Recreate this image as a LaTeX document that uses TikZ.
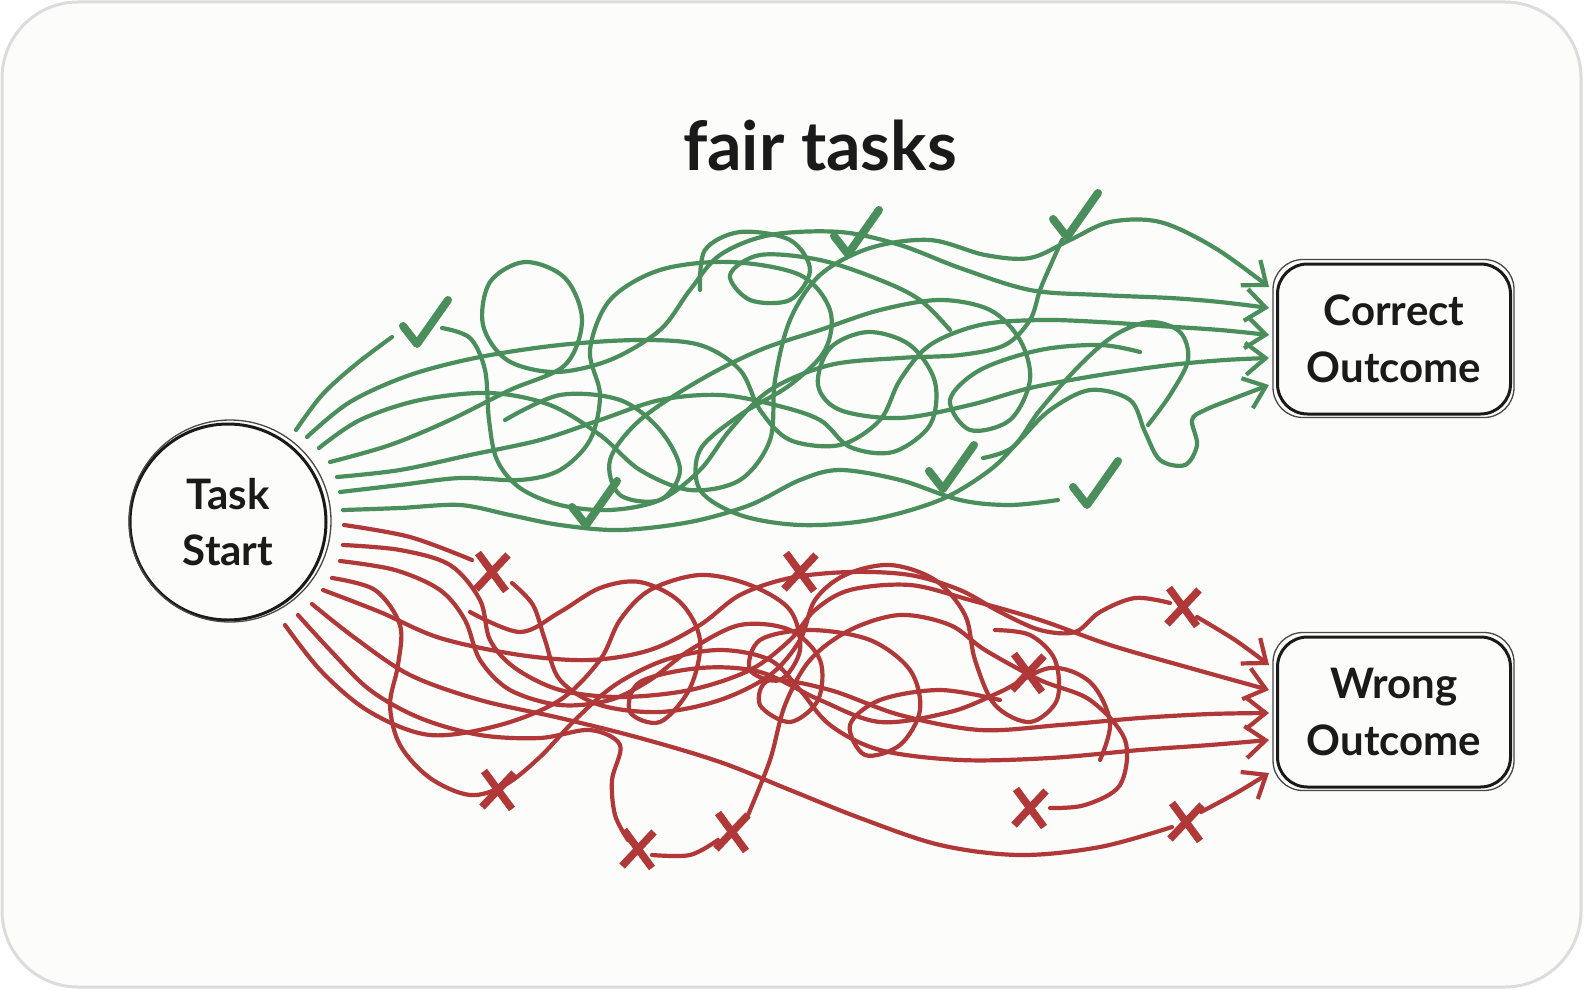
\documentclass[tikz,border=0pt]{standalone}
\usepackage{fontspec}
\setmainfont{Lato}
\usetikzlibrary{arrows.meta}
\definecolor{gr}{HTML}{4A8E5B}
\definecolor{rd}{HTML}{B03838}
\definecolor{ink}{HTML}{1A1A1A}
\definecolor{frame}{HTML}{DCDCDC}
\definecolor{paper}{HTML}{FCFCFA}
\begin{document}
\begin{tikzpicture}[x=1pt,y=-1pt,
  gline/.style={draw=gr, line width=4.2pt, line cap=round, line join=round},
  rline/.style={draw=rd, line width=4.2pt, line cap=round, line join=round},
  tip/.style={-{Straight Barb[length=20pt,width=32pt]}},
  sm/.style={smooth, tension=0.55},
  chk/.pic={\draw[draw=gr, line width=8pt, line cap=round, line join=round] (-22,3) -- (-8,21) -- (23,-23);},
  xm/.pic={\draw[draw=rd, line width=7.5pt] (-14,-19) -- (14,19) (16,-17) -- (-16,17);},
  txt/.style={text=ink, align=center, font=\bfseries\fontsize{42}{57}\selectfont},
  sketch/.style={draw=ink, line width=3pt},
  sketch2/.style={draw=ink!80, line width=1.3pt}]
\useasboundingbox (0,0) rectangle (1584,990);
\draw[draw=frame, line width=3pt, fill=paper, rounded corners=76pt] (2,2) rectangle (1581,987);

% nodes
\node[txt, font=\bfseries\fontsize{68}{74}\selectfont, anchor=base] (title) at (820,170) {fair tasks};
\node[txt, circle, sketch, minimum size=196pt, inner sep=0pt, font=\bfseries\fontsize{42}{56}\selectfont] (start) at (228,522) {Task\\Start};
\draw[sketch2] ([shift={(2pt,1pt)}]start.center) circle[radius=101];
\node[txt, sketch, rounded corners=30pt, minimum width=233pt, minimum height=150pt] (correct) at (1394,339) {Correct\\Outcome};
\draw[sketch2, rounded corners=30pt] ([shift={(-3pt,-2pt)}]correct.south west) rectangle ([shift={(2pt,3pt)}]correct.north east);
\node[txt, sketch, rounded corners=30pt, minimum width=233pt, minimum height=150pt] (wrong) at (1394,712) {Wrong\\Outcome};
\draw[sketch2, rounded corners=30pt] ([shift={(-3pt,-2pt)}]wrong.south west) rectangle ([shift={(2pt,3pt)}]wrong.north east);

% green start / end points
\coordinate (gs1) at (296,430);
\coordinate (gs2) at (307,437);
\coordinate (gs3) at (319,448);
\coordinate (gs4) at (330,462);
\coordinate (gs5) at (337,477);
\coordinate (gs6) at (340,492);
\coordinate (gs7) at (343,510);
\coordinate (gs8) at (442,328);
\coordinate (ga1) at ([shift={(-7pt,52pt)}]correct.west);
\coordinate (ga2) at ([shift={(-7pt,31pt)}]correct.west);
\coordinate (ga3) at ([shift={(-7pt,4pt)}]correct.west);
\coordinate (ga4) at ([shift={(-7pt,-19pt)}]correct.west);
\coordinate (ga5) at ([shift={(-7pt,-46pt)}]correct.west);

% green scribbles
\draw[gline] plot[sm] coordinates {(gs1) (322,395) (355,365) (392,337)};
\draw[gline, tip] plot[sm] coordinates {(gs2) (350,402) (410,375) (480,357) (560,345) (640,340) (700,345) (740,370) (760,410) (790,440) (840,445) (880,420) (900,380) (930,345) (980,325) (1040,320) (1100,322) (1160,326) (1220,330) (ga3)};
\draw[gline, tip] plot[sm] coordinates {(gs3) (360,420) (420,400) (490,393) (550,405) (600,435) (640,470) (690,490) (740,480) (770,440) (775,380) (790,320) (820,275) (870,248) (930,240) (985,255) (1030,258) (1070,240) (1110,222) (1160,222) (1215,248) (ga1)};
\draw[gline, tip] plot[sm] coordinates {(gs4) (390,445) (450,420) (510,390) (565,365) (582,320) (565,278) (525,262) (490,282) (483,325) (507,360) (555,372) (610,360) (660,330) (690,290) (720,255) (770,235) (840,232) (900,245) (960,268) (1030,290) (1100,295) (1170,298) (1220,302) (ga2)};
\draw[gline, tip] plot[sm] coordinates {(gs5) (400,470) (470,455) (540,440) (600,420) (660,400) (720,395) (775,405) (820,420) (850,447) (893,452) (930,425) (935,382) (910,345) (868,332) (830,348) (818,385) (840,410) (900,418) (970,405) (1030,388) (1100,375) (1170,365) (1225,360) (ga4)};
\draw[gline, tip] plot[sm] coordinates {(gs6) (400,485) (460,478) (520,480) (560,470) (590,440) (600,395) (590,350) (610,300) (660,270) (730,262) (800,275) (830,310) (825,350) (790,385) (740,415) (700,450) (700,490) (740,515) (800,525) (870,520) (940,500) (990,470) (1020,440) (1050,410) (1090,390) (1130,400) (1145,432) (1160,460) (1185,465) (1197,445) (1192,420) (1205,410) (1235,398) (ga5)};
\draw[gline] plot[sm] coordinates {(gs7) (400,508) (460,505) (510,515) (560,525) (620,530) (690,522) (750,505) (800,480) (840,470) (900,480) (960,500) (1010,505) (1058,500)};
\draw[gline] plot[sm] coordinates {(gs8) (470,338) (485,370) (489,420) (497,460) (520,488) (560,505) (610,510) (660,500) (700,470) (730,430) (770,390) (830,365) (900,358) (960,355) (1005,345) (1030,320) (1040,290) (1052,262) (1062,240)};
\draw[gline] plot[sm] coordinates {(983,458) (1013,447) (1040,410) (1080,365) (1115,335) (1150,322) (1180,332) (1188,360) (1170,395) (1148,425)};
\draw[gline] plot[sm] coordinates {(505,420) (560,395) (620,400) (660,430) (680,470) (660,500) (620,495) (610,460) (640,420) (700,380) (760,350) (820,330) (880,310) (940,300) (990,310) (1020,340) (1030,380) (1010,420) (970,430) (950,400) (980,370) (1040,350) (1100,345) (1140,352)};
\draw[gline] plot[sm] coordinates {(700,290) (705,250) (740,232) (790,240) (810,270) (790,300) (750,300) (730,275) (760,255) (820,260) (880,280) (920,300) (950,330)};

% checks
\foreach \p in {(425,323),(856,233),(1075,216),(594,504),(951,468),(1095,484)}
  \pic at \p {chk};

% red start / end points
\coordinate (rs1) at (344,525);
\coordinate (rs2) at (343,545);
\coordinate (rs3) at (340,561);
\coordinate (rs4) at (332,578);
\coordinate (rs5) at (323,590);
\coordinate (rs6) at (312,604);
\coordinate (rs7) at (298,615);
\coordinate (rs8) at (285,625);
\coordinate (ra1) at ([shift={(-7pt,47pt)}]wrong.west);
\coordinate (ra2) at ([shift={(-7pt,22pt)}]wrong.west);
\coordinate (ra3) at ([shift={(-7pt,-1pt)}]wrong.west);
\coordinate (ra4) at ([shift={(-7pt,-28pt)}]wrong.west);
\coordinate (ra5) at ([shift={(-7pt,-61pt)}]wrong.west);

% red scribbles
\draw[rline] plot[sm] coordinates {(rs1) (410,537) (472,560)};
\draw[rline] plot[sm] coordinates {(512,583) (533,605) (545,640) (560,680) (600,705) (660,712) (720,700) (770,675) (800,640) (815,600) (845,575) (890,565) (935,580) (965,615) (975,660) (995,705) (1030,722) (1057,700) (1055,660) (1030,635) (995,630)};
\draw[rline, tip] plot[sm] coordinates {(rs2) (400,550) (450,565) (480,600) (490,640) (515,668) (560,690) (620,697) (690,690) (750,670) (790,640) (815,610) (850,590) (910,585) (970,600) (1040,620) (1110,645) (1190,668) (ra2)};
\draw[rline, tip] plot[sm] coordinates {(rs3) (395,570) (440,590) (465,620) (480,660) (510,690) (560,705) (610,700) (650,680) (690,650) (740,625) (790,630) (820,660) (818,700) (790,722) (760,705) (770,680) (830,690) (900,715) (980,730) (1060,725) (1140,718) (1210,714) (ra3)};
\draw[rline, tip] plot[sm] coordinates {(rs4) (375,590) (400,625) (398,665) (390,705) (400,745) (430,778) (470,795) (505,785) (540,757) (575,720) (615,685) (665,660) (720,650) (770,660) (800,690) (830,725) (880,750) (960,760) (1050,758) (1140,750) (1210,745) (ra4)};
\draw[rline] plot[sm] coordinates {(rs5) (380,612) (440,638) (520,655) (590,660) (650,650) (700,625) (740,595) (790,578) (850,572) (910,575) (960,590) (1000,612) (1040,630) (1075,632) (1100,612) (1135,598) (1170,603)};
\draw[rline, tip] plot[sm] coordinates {(1197,617) (1235,640) (ra1)};
\draw[rline] plot[sm] coordinates {(rs6) (355,638) (410,675) (480,700) (560,718) (640,738) (720,762) (790,790) (860,818) (940,845) (1020,855) (1100,847) (1172,827)};
\draw[rline, tip] plot[sm] coordinates {(1201,812) (1238,792) (ra5)};
\draw[rline] plot[sm] coordinates {(rs7) (330,650) (370,690) (420,718) (480,735) (540,738) (590,730) (620,745) (612,780) (615,815) (628,840)};
\draw[rline] plot[sm] coordinates {(652,855) (690,855) (718,840)};
\draw[rline] plot[sm] coordinates {(748,815) (770,760) (785,705) (810,660) (850,630) (900,615) (950,625) (985,650) (1040,680) (1090,700) (1125,740) (1120,785) (1085,805) (1050,808)};
\draw[rline] plot[sm] coordinates {(rs8) (322,672) (370,712) (430,735) (500,725) (560,700) (600,660) (620,620) (650,590) (700,575) (750,585) (790,610) (800,650) (780,680) (750,670) (760,640) (810,630) (870,640) (910,670) (920,710) (900,745) (865,755) (850,725) (880,700) (940,690) (1000,700)};
\draw[rline] plot[sm] coordinates {(470,612) (520,632) (560,612) (600,588) (640,582) (680,602) (700,640) (690,688) (660,722) (630,712) (640,682) (700,668) (760,672) (820,700) (880,722) (950,712) (1000,692) (1050,668) (1090,682) (1110,722) (1100,760)};

% crosses
\foreach \p in {(492,572),(498,790),(638,849),(732,832),(800,572),(1028,673),(1030,808),(1183,607),(1186,822)}
  \pic at \p {xm};
\end{tikzpicture}
\end{document}
